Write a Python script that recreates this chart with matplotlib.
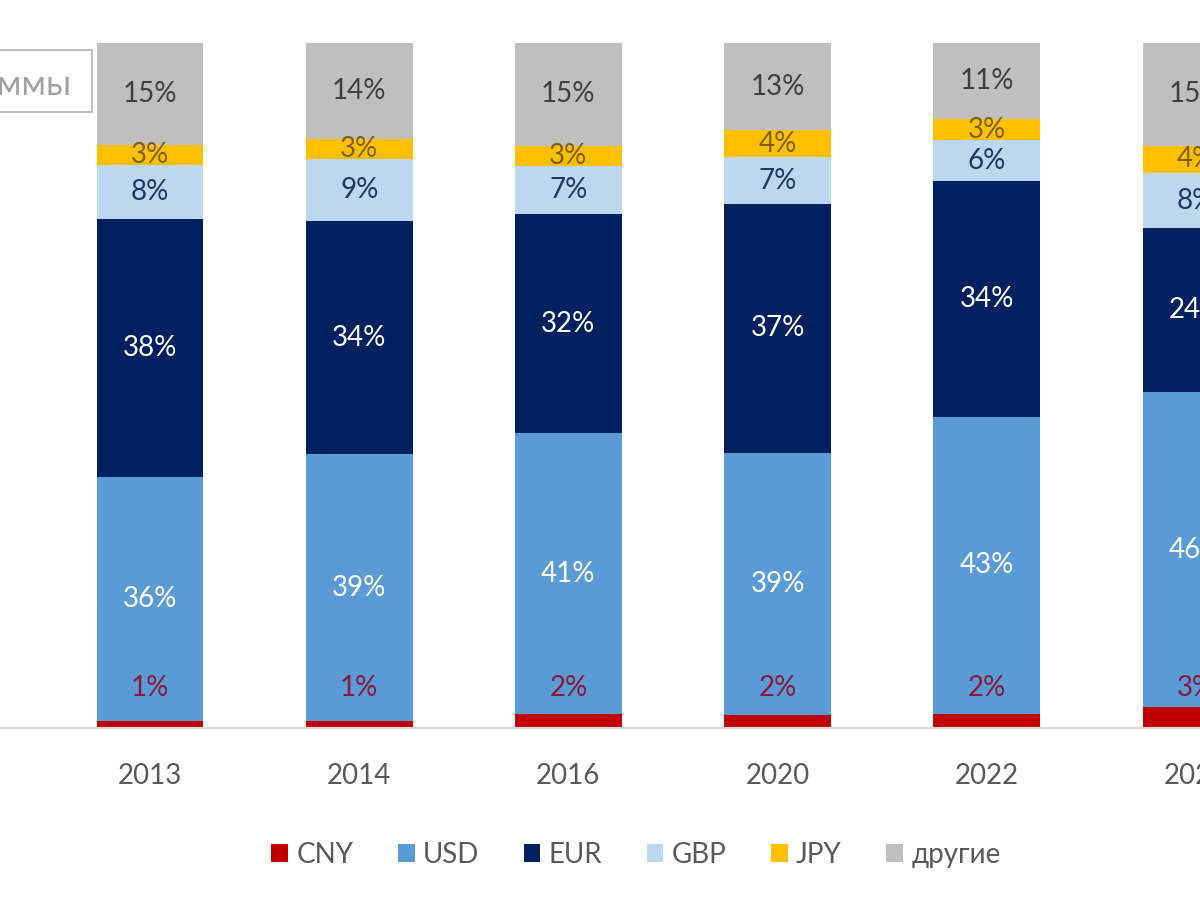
import numpy as np
import matplotlib.pyplot as plt
from matplotlib.patches import Rectangle

plt.rcParams['font.family'] = ['Lato', 'Noto Sans', 'DejaVu Sans']

years = ['2013', '2014', '2016', '2020', '2022', '2024']
currencies = ['CNY', 'USD', 'EUR', 'GBP', 'JPY', 'другие']
cny = [1, 1, 2, 2, 2, 3]
usd = [36, 39, 41, 39, 43, 46]
eur = [38, 34, 32, 37, 34, 24]
gbp = [8, 9, 7, 7, 6, 8]
jpy = [3, 3, 3, 4, 3, 4]
other = [15, 14, 15, 13, 11, 15]

colors = ['#C00000', '#5B9BD5', '#002060', '#BDD7EE', '#FFC000', '#BFBFBF']
label_colors = ['#8B1A3A', 'white', 'white', '#1F3864', '#7F6000', '#404040']

series = np.array([cny, usd, eur, gbp, jpy, other], dtype=float)
# 100% stacked chart, like in Excel
shares = series / series.sum(axis=0) * 100

fig = plt.figure(figsize=(12, 9), dpi=100)
ax = fig.add_axes([0, 0.1911, 1, 0.7611])

x = np.arange(len(years))
bottom = np.zeros(len(years))
for i, name in enumerate(currencies):
    ax.bar(x, shares[i], 0.51, bottom=bottom, color=colors[i], label=name, zorder=2)
    for j in range(len(years)):
        if i == 0:
            y = 5.9  # CNY labels sit just above the thin red segment
        else:
            y = bottom[j] + shares[i][j] / 2
        ax.text(x[j], y, f'{int(series[i][j])}%', ha='center', va='center',
                color=label_colors[i], fontsize=20, zorder=3)
    bottom += shares[i]

ax.set_xlim(-150 / 209.2, 1050 / 209.2)
ax.set_ylim(0, 100)
ax.set_xticks(x)
ax.set_xticklabels(years, fontsize=20, color='#595959')
ax.tick_params(axis='x', length=0, pad=25)
ax.set_yticks([])
for side in ['top', 'left', 'right']:
    ax.spines[side].set_visible(False)
ax.spines['bottom'].set_color('#D9D9D9')
ax.spines['bottom'].set_linewidth(1.5)

fig.legend(loc='center', bbox_to_anchor=(0.53, 0.05), ncol=6, frameon=False,
           fontsize=20, labelcolor='#595959', handlelength=0.6, handleheight=0.6,
           handletextpad=0.3, columnspacing=1.6)

# clipped chart title placeholder in the top-left corner
fig.add_artist(Rectangle((-0.1, 0.8756), 0.1767, 0.0684, transform=fig.transFigure,
                         facecolor='white', edgecolor='#BFBFBF', linewidth=1.5))
fig.text(0.059, 0.906, 'Название диаграммы', ha='right', va='center',
         fontsize=25, color='#A0A0A0')

fig.savefig('out.png', dpi=100)
